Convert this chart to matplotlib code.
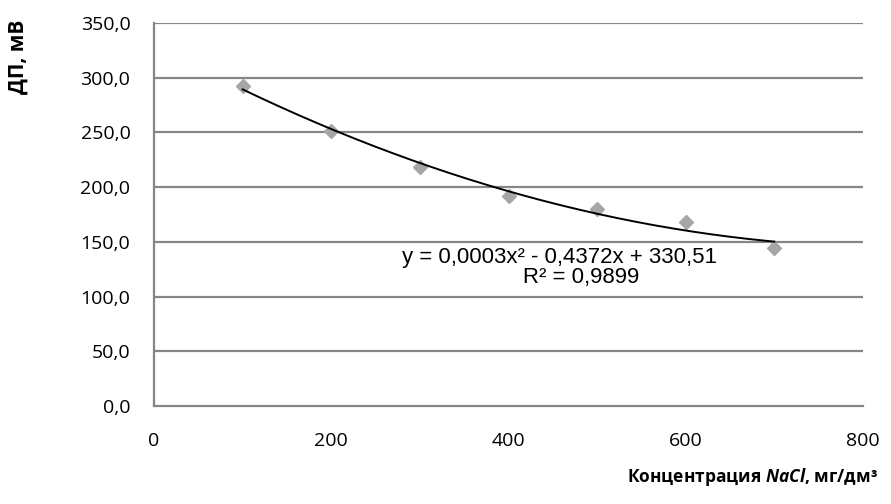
import numpy as np
import matplotlib
matplotlib.use("Agg")
import matplotlib.pyplot as plt

# Data
conc = [100, 200, 300, 400, 500, 600, 700]
dp = [292.4, 251.3, 218.8, 192.0, 180.0, 168.1, 144.4]
xticks = [0, 200, 400, 600, 800]
yticks = [0, 50, 100, 150, 200, 250, 300, 350]
eq_text = "y = 0,0003x² - 0,4372x + 330,51"
r2_text = "R² = 0,9899"

plt.rcParams['mathtext.fontset'] = 'custom'
plt.rcParams['mathtext.it'] = 'Open Sans:italic:bold'
plt.rcParams['mathtext.rm'] = 'Open Sans:bold'

W, H = 891, 504
fig = plt.figure(figsize=(W/100, H/100), dpi=100)
ax = fig.add_axes([154/W, 1-406/H, (863-154)/W, (406-23)/H])

grid_c = '#868686'
for y in yticks[1:]:
    ax.axhline(y, color=grid_c, lw=1.6, zorder=1)

ax.plot(conc, dp, linestyle='none', marker='D', ms=7.5, color='#A6A6A6',
        markeredgecolor='#A6A6A6', zorder=3)

coef = np.polyfit(conc, dp, 2)
xs = np.linspace(conc[0], conc[-1], 200)
ax.plot(xs, np.polyval(coef, xs), color='black', lw=1.4, zorder=4)

ax.set_xlim(0, 800)
ax.set_ylim(0, 350)
ax.set_xticks(xticks)
ax.set_yticks(yticks)
ax.set_xticklabels([str(v) for v in xticks])
ax.set_yticklabels([f"{v:.1f}".replace('.', ',') for v in yticks])
ax.tick_params(length=0, labelsize=14, colors='black')
ax.tick_params(axis='y', pad=17)
ax.tick_params(axis='x', pad=19)
for lab in ax.get_xticklabels() + ax.get_yticklabels():
    lab.set_fontfamily('Open Sans')

for s in ['top', 'right']:
    ax.spines[s].set_visible(False)
for s in ['left', 'bottom']:
    ax.spines[s].set_color(grid_c)
    ax.spines[s].set_linewidth(1.6)

fig.text(560/W, 1-283/H, eq_text + "\n" + " " * 7 + r2_text, fontsize=16,
         family='Liberation Sans', ha='center', va='baseline',
         multialignment='center', linespacing=0.96, zorder=5)

fig.text(18/W, 1-57/H, "ДП, мВ", rotation=90, fontsize=15, fontweight='bold',
         family='Open Sans', ha='center', va='center')
fig.text(878/W, 1-477/H, r"Концентрация $\mathit{NaCl}$, мг/дм³", fontsize=12.5,
         fontweight='bold', family='Open Sans', ha='right', va='center')

fig.savefig("out.png", dpi=100)
